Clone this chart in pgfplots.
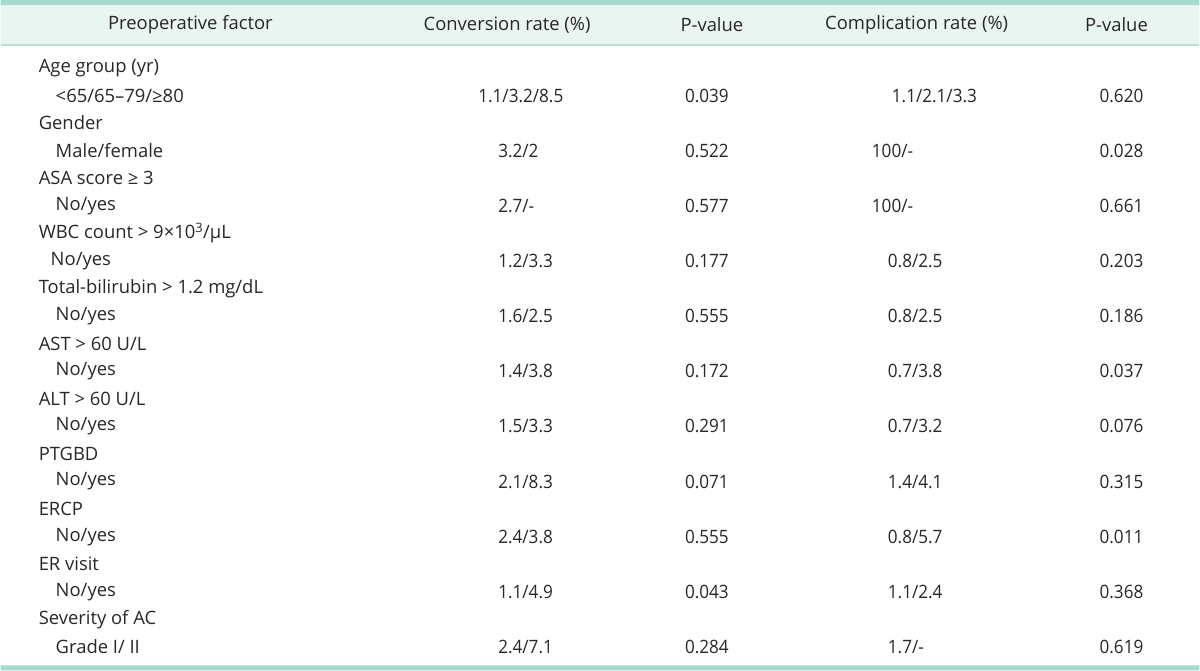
\documentclass[border=0pt]{standalone}
\usepackage{fontspec}
\setmainfont{Open Sans}
\newfontfamily\numf[FakeStretch=0.93]{Open Sans}
\usepackage{pgfplots}
\pgfplotsset{compat=1.18}
\definecolor{rulec}{HTML}{A6DACD}
\definecolor{bandc}{HTML}{E8F5F1}
\definecolor{txt}{HTML}{2A2627}
\begin{document}
\begin{tikzpicture}
\begin{axis}[
  width=1200bp, height=671bp, scale only axis,
  xmin=0, xmax=1200, ymin=0, ymax=671, y dir=reverse,
  hide axis, clip=false,
  every node near coord/.append style={font=\fontsize{18.5}{22}\selectfont, text=txt, inner sep=0pt, opacity=1},
  lbl/.style={only marks, mark=*, mark size=0pt, mark options={draw=none,fill=none},
    nodes near coords, point meta=explicit symbolic},
  num/.style={every node near coord/.append style={font=\numf\fontsize{18.5}{22}\selectfont}},
]
% rules and header band
\addplot[fill=bandc, draw=none] coordinates {(0,4) (1200,4) (1200,45) (0,45) (0,4)};
\addplot[fill=rulec, draw=none] coordinates {(0,0) (1200,0) (1200,5) (0,5) (0,0)};
\addplot[draw=rulec!80, line width=1.2bp] coordinates {(0,45) (1200,45)};
\addplot[fill=rulec, draw=none] coordinates {(0,666) (1200,666) (1200,671) (0,671) (0,666)};
% header
\addplot[lbl, nodes near coords align={anchor=center}] coordinates {
 (190,25) [Preoperative factor]
 (507,25) [Conversion rate (\%)]
 (712,25) [P-value]
 (917,25) [Complication rate (\%)]
 (1117,25) [P-value]
};
% row labels
\addplot[lbl, nodes near coords align={anchor=west}] coordinates {
 (38,68) [Age group (yr)]
 (55,95.6) [<65/65–79/≥80]
 (38,123.2) [Gender]
 (55,150.8) [Male/female]
 (38,178.4) [ASA score ≥ 3]
 (55,206) [No/yes]
 (38,233.6) [WBC count > 9×10\textsuperscript{3}/µL]
 (50,261.2) [No/yes]
 (38,288.8) [Total-bilirubin > 1.2 mg/dL]
 (55,316.4) [No/yes]
 (38,344) [AST > 60 U/L]
 (55,371.6) [No/yes]
 (38,399.2) [ALT > 60 U/L]
 (55,426.8) [No/yes]
 (38,454.4) [PTGBD]
 (55,482) [No/yes]
 (38,509.6) [ERCP]
 (55,537.2) [No/yes]
 (38,564.8) [ER visit]
 (55,592.4) [No/yes]
 (38,620) [Severity of AC]
 (55,647.6) [Grade I/ II]
};
% conversion rate
\addplot[lbl, num, nodes near coords align={anchor=west}] coordinates {
 (478,95.6) [1.1/3.2/8.5]
 (498,150.8) [3.2/2]
 (498,206) [2.7/-]
 (498,261.2) [1.2/3.3]
 (498,316.4) [1.6/2.5]
 (498,371.6) [1.4/3.8]
 (498,426.8) [1.5/3.3]
 (498,482) [2.1/8.3]
 (498,537.2) [2.4/3.8]
 (498,592.4) [1.1/4.9]
 (498,647.6) [2.4/7.1]
};
% p-value 1
\addplot[lbl, num, nodes near coords align={anchor=center}] coordinates {
 (707,95.6) [0.039]
 (707,150.8) [0.522]
 (707,206) [0.577]
 (707,261.2) [0.177]
 (707,316.4) [0.555]
 (707,371.6) [0.172]
 (707,426.8) [0.291]
 (707,482) [0.071]
 (707,537.2) [0.555]
 (707,592.4) [0.043]
 (707,647.6) [0.284]
};
% complication rate
\addplot[lbl, num, nodes near coords align={anchor=west}] coordinates {
 (892,95.6) [1.1/2.1/3.3]
 (872,150.8) [100/-]
 (872,206) [100/-]
 (888,261.2) [0.8/2.5]
 (888,316.4) [0.8/2.5]
 (888,371.6) [0.7/3.8]
 (888,426.8) [0.7/3.2]
 (888,482) [1.4/4.1]
 (888,537.2) [0.8/5.7]
 (888,592.4) [1.1/2.4]
 (888,647.6) [1.7/-]
};
% p-value 2
\addplot[lbl, num, nodes near coords align={anchor=center}] coordinates {
 (1122,95.6) [0.620]
 (1122,150.8) [0.028]
 (1122,206) [0.661]
 (1122,261.2) [0.203]
 (1122,316.4) [0.186]
 (1122,371.6) [0.037]
 (1122,426.8) [0.076]
 (1122,482) [0.315]
 (1122,537.2) [0.011]
 (1122,592.4) [0.368]
 (1122,647.6) [0.619]
};
\end{axis}
\end{tikzpicture}
\end{document}
